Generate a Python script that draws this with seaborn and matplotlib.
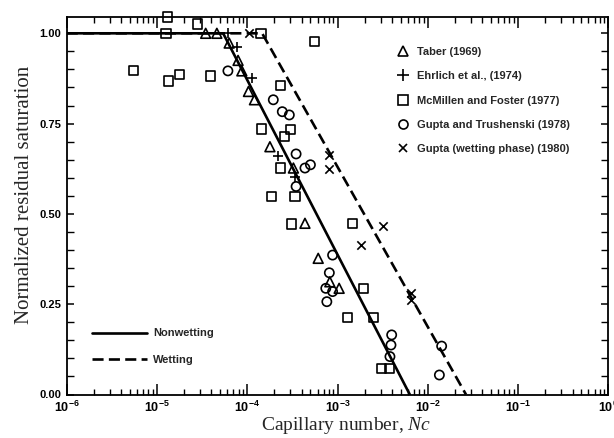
import numpy as np
import pandas as pd
import matplotlib
matplotlib.use('Agg')
import matplotlib.pyplot as plt
import seaborn as sns
from matplotlib.lines import Line2D
from matplotlib.ticker import LogLocator, MultipleLocator, FixedLocator, NullFormatter, FixedFormatter

# ---------------- data ----------------
taber_x = [3.46e-5, 4.6e-5, 6.3e-5, 7.9e-5, 8.7e-5, 1.03e-4, 1.2e-4, 1.78e-4, 3.24e-4,
           4.35e-4, 6.1e-4, 8.2e-4, 1.04e-3]
taber_y = [1.0, 1.0, 0.973, 0.925, 0.896, 0.839, 0.816, 0.686, 0.627, 0.474, 0.377, 0.312, 0.294]

ehrlich_x = [6.1e-5, 7.6e-5, 1.12e-4, 2.2e-4, 3.37e-4]
ehrlich_y = [1.0, 0.963, 0.876, 0.659, 0.603]

mcmillen_x = [1.32e-5, 2.8e-5, 1.26e-5, 1.42e-4, 5.5e-4, 5.5e-6, 1.33e-5, 1.77e-5, 3.9e-5,
              2.34e-4, 1.44e-4, 3.0e-4, 2.6e-4, 2.34e-4, 1.86e-4, 3.37e-4, 3.1e-4, 1.47e-3,
              1.93e-3, 1.29e-3, 2.49e-3, 3.08e-3, 3.74e-3]
mcmillen_y = [1.045, 1.026, 1.0, 1.0, 0.977, 0.897, 0.868, 0.885, 0.882, 0.855, 0.735, 0.733,
              0.714, 0.627, 0.548, 0.548, 0.472, 0.474, 0.294, 0.214, 0.214, 0.073, 0.073]

gupta_t_x = [6.1e-5, 1.94e-4, 2.44e-4, 2.92e-4, 3.47e-4, 5.0e-4, 4.35e-4, 3.47e-4, 8.8e-4,
             8.1e-4, 7.4e-4, 8.8e-4, 7.6e-4, 3.97e-3, 3.9e-3, 3.8e-3, 1.42e-2, 1.34e-2]
gupta_t_y = [0.896, 0.816, 0.783, 0.774, 0.666, 0.636, 0.627, 0.576, 0.386, 0.337, 0.294,
             0.285, 0.257, 0.165, 0.137, 0.105, 0.134, 0.054]

gupta_w_x = [1.05e-4, 8.1e-4, 8.1e-4, 3.16e-3, 1.82e-3, 6.5e-3, 6.5e-3]
gupta_w_y = [1.0, 0.663, 0.624, 0.467, 0.414, 0.280, 0.262]

nonwet_x = [1e-6, 5.4e-5, 6.3e-3]
nonwet_y = [1.0, 1.0, 0.0]
wet_x = [1e-6, 1.46e-4, 2.64e-2]
wet_y = [1.0, 1.0, 0.0]

series_labels = ["Taber (1969)", "Ehrlich et al., (1974)", "McMillen and Foster (1977)",
                 "Gupta and Trushenski (1978)", "Gupta (wetting phase) (1980)"]
line_labels = ["Nonwetting", "Wetting"]
x_tick_vals = [1e-6, 1e-5, 1e-4, 1e-3, 1e-2, 1e-1, 1e0]
x_tick_labels = [r"$\mathbf{10^{-6}}$", r"$\mathbf{10^{-5}}$", r"$\mathbf{10^{-4}}$",
                 r"$\mathbf{10^{-3}}$", r"$\mathbf{10^{-2}}$", r"$\mathbf{10^{-1}}$",
                 r"$\mathbf{10^{0}}$"]
y_tick_vals = [0.0, 0.25, 0.5, 0.75, 1.0]

# ---------------- style ----------------
sns.set_style('ticks')
plt.rcParams['font.family'] = ['Liberation Sans', 'DejaVu Sans']
plt.rcParams['mathtext.fontset'] = 'custom'
plt.rcParams['mathtext.rm'] = 'Liberation Sans:bold'
plt.rcParams['mathtext.bf'] = 'Liberation Sans:bold'
plt.rcParams['mathtext.it'] = 'Liberation Serif:italic'
plt.rcParams['mathtext.default'] = 'regular'
plt.rcParams['lines.dashed_pattern'] = [4.2, 2.0]

fig = plt.figure(figsize=(6.14, 4.38), dpi=100)
W, H = 614, 438
ax_l, ax_r, ax_t, ax_b = 66.7, 608.5, 16.7, 394.5
ax = fig.add_axes([ax_l / W, 1 - ax_b / H, (ax_r - ax_l) / W, (ax_b - ax_t) / H])

# ---------------- lines ----------------
sns.lineplot(x=nonwet_x, y=nonwet_y, ax=ax, color='black', linewidth=1.9, linestyle='-',
             sort=False, estimator=None)
sns.lineplot(x=wet_x, y=wet_y, ax=ax, color='black', linewidth=1.9, linestyle='--',
             sort=False, estimator=None)

# ---------------- points ----------------
lw = 1.2
sns.scatterplot(x=taber_x, y=taber_y, ax=ax, marker='^', s=50, facecolor='none',
                edgecolor='black', linewidth=lw, clip_on=False, zorder=3)
sns.scatterplot(x=ehrlich_x, y=ehrlich_y, ax=ax, marker='+', s=60, color='black',
                linewidth=lw, clip_on=False, zorder=3)
sns.scatterplot(x=mcmillen_x, y=mcmillen_y, ax=ax, marker='s', s=44, facecolor='none',
                edgecolor='black', linewidth=lw, clip_on=False, zorder=3)
sns.scatterplot(x=gupta_t_x, y=gupta_t_y, ax=ax, marker='o', s=44, facecolor='none',
                edgecolor='black', linewidth=lw, clip_on=False, zorder=3)
sns.scatterplot(x=gupta_w_x, y=gupta_w_y, ax=ax, marker='x', s=36, color='black',
                linewidth=lw, clip_on=False, zorder=3)

# ---------------- axes ----------------
ax.set_xscale('log')
ax.set_xlim(1e-6, 1e0)
ax.set_ylim(0.0, 1.046)
ax.xaxis.set_major_locator(FixedLocator(x_tick_vals))
ax.xaxis.set_major_formatter(FixedFormatter(x_tick_labels))
ax.xaxis.set_minor_locator(LogLocator(base=10, subs=np.arange(2, 10), numticks=20))
ax.xaxis.set_minor_formatter(NullFormatter())
ax.yaxis.set_major_locator(FixedLocator(y_tick_vals))
ax.yaxis.set_major_formatter(FixedFormatter(["%.2f" % v for v in y_tick_vals]))
ax.yaxis.set_minor_locator(MultipleLocator(0.05))

ax.tick_params(which='both', direction='in', top=True, right=True, colors='black',
               labelsize=8)
ax.tick_params(axis='x', which='major', length=8, width=1.1, pad=4, labelsize=9)
ax.tick_params(axis='x', which='minor', length=4, width=1.0)
ax.tick_params(axis='y', which='major', length=5, width=1.1, pad=4)
ax.tick_params(axis='y', which='minor', length=5, width=1.0)
for lbl in ax.get_xticklabels() + ax.get_yticklabels():
    lbl.set_fontweight('bold')
for sp in ax.spines.values():
    sp.set_linewidth(1.3)
    sp.set_color('black')
    sp.set_visible(True)

ax.set_xlabel(r"Capillary number, $\mathit{Nc}$", family='Liberation Serif', fontsize=14,
              va='top')
ax.xaxis.set_label_coords(0.5155, -0.0555)
ax.set_ylabel("Normalized residual saturation", family='Liberation Serif', fontsize=15)
ax.yaxis.set_label_coords(-0.06, 0.528)

# ---------------- legends ----------------
fs = 8
mk = dict(color='black', linestyle='none', markerfacecolor='none', markeredgecolor='black',
          markeredgewidth=lw)
h1 = [Line2D([], [], marker='^', markersize=7, **mk),
      Line2D([], [], marker='+', markersize=8, color='black', linestyle='none',
             markeredgewidth=lw),
      Line2D([], [], marker='s', markersize=6.5, **mk),
      Line2D([], [], marker='o', markersize=6.5, **mk),
      Line2D([], [], marker='x', markersize=6, color='black', linestyle='none',
             markeredgewidth=lw)]
leg1 = ax.legend(h1, series_labels, loc='upper left',
                 bbox_to_anchor=(397.5 / W, 1 - 47 / H), bbox_transform=fig.transFigure,
                 frameon=False, handlelength=1.0, handletextpad=0.76,
                 labelspacing=1.29, borderpad=0, borderaxespad=0,
                 prop={'weight': 'bold', 'size': fs})
ax.add_artist(leg1)

h2 = [Line2D([], [], color='black', linewidth=1.9, linestyle='-'),
      Line2D([], [], color='black', linewidth=1.9, linestyle='--')]
leg2 = ax.legend(h2, line_labels, loc='upper left',
                 bbox_to_anchor=(91.7 / W, 1 - 328.5 / H), bbox_transform=fig.transFigure,
                 frameon=False, handlelength=4.95, handletextpad=0.55,
                 labelspacing=1.47, borderpad=0, borderaxespad=0,
                 prop={'weight': 'bold', 'size': fs})

fig.savefig('out.png', dpi=100)
